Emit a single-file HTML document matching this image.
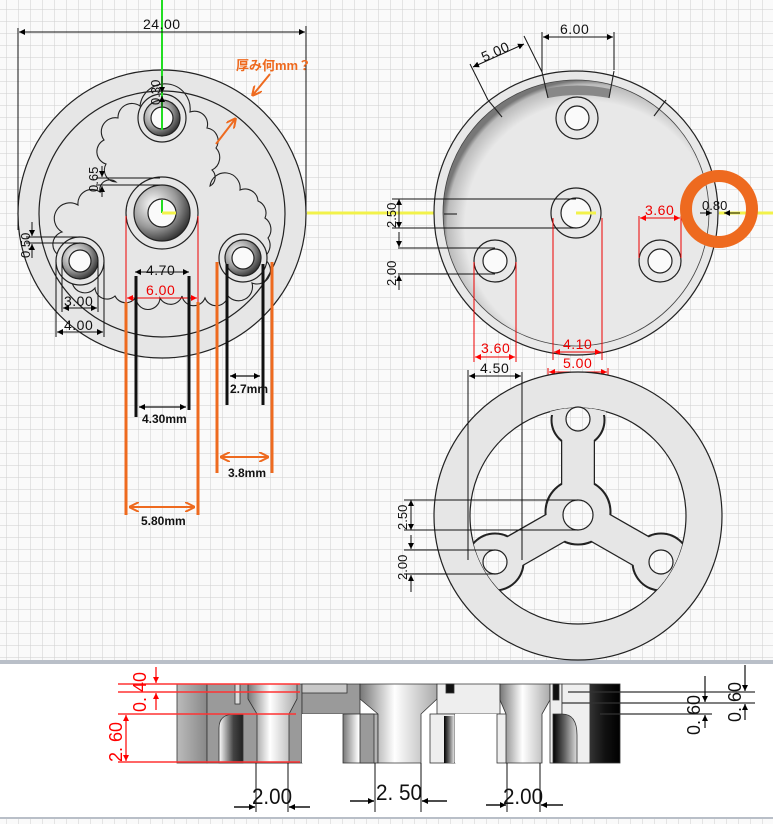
<!DOCTYPE html>
<html><head><meta charset="utf-8"><style>
html,body{margin:0;padding:0;background:#fafafa}
svg{display:block}
text{font-family:"Liberation Sans","Noto Sans CJK JP",sans-serif}
</style></head><body>
<svg width="773" height="824" viewBox="0 0 773 824" xmlns="http://www.w3.org/2000/svg">
<defs>
<pattern id="g" x="6" y="9" width="12" height="12" patternUnits="userSpaceOnUse">
<rect width="12" height="12" fill="#fafafa"/>
<path d="M0 0H12M0 0V12" stroke="#cfcfcf" stroke-width="1"/>
</pattern>
<marker id="ab" viewBox="0 0 10 10" refX="10" refY="5" markerWidth="9" markerHeight="6" orient="auto-start-reverse" markerUnits="userSpaceOnUse"><path d="M0 0L10 5L0 10z" fill="#000"/></marker>
<marker id="ar" viewBox="0 0 10 10" refX="10" refY="5" markerWidth="9" markerHeight="6" orient="auto-start-reverse" markerUnits="userSpaceOnUse"><path d="M0 0L10 5L0 10z" fill="#f00"/></marker>
<marker id="ao" viewBox="0 0 10 10" refX="10" refY="5" markerWidth="10" markerHeight="10" orient="auto-start-reverse" markerUnits="userSpaceOnUse"><path d="M0 0L10 5L0 10" fill="none" stroke="#ee6a1f" stroke-width="2"/></marker>
<radialGradient id="bev" cx="0.35" cy="0.35" r="0.7"><stop offset="0" stop-color="#fff"/><stop offset="0.6" stop-color="#999"/><stop offset="1" stop-color="#333"/></radialGradient>
<radialGradient id="rim" cx="0.55" cy="0.55" r="0.55"><stop offset="0.85" stop-color="#e8e8e8"/><stop offset="0.97" stop-color="#bbb"/><stop offset="1" stop-color="#777"/></radialGradient>
<linearGradient id="cyl" x1="0" x2="1"><stop offset="0" stop-color="#777"/><stop offset="0.45" stop-color="#fff"/><stop offset="1" stop-color="#aaa"/></linearGradient>
<linearGradient id="lb" x1="0" x2="1"><stop offset="0" stop-color="#bbb"/><stop offset="1" stop-color="#888"/></linearGradient>
<linearGradient id="dk" x1="0" x2="1"><stop offset="0" stop-color="#333"/><stop offset="0.5" stop-color="#111"/><stop offset="1" stop-color="#000"/></linearGradient>
<linearGradient id="arch" x1="0" x2="1"><stop offset="0" stop-color="#fff"/><stop offset="0.6" stop-color="#444"/><stop offset="1" stop-color="#222"/></linearGradient>
<linearGradient id="arch2" x1="0" x2="1"><stop offset="0" stop-color="#000"/><stop offset="0.5" stop-color="#666"/><stop offset="1" stop-color="#ddd"/></linearGradient>
<clipPath id="inr"><circle cx="578" cy="516" r="108"/></clipPath>
</defs>

<rect width="773" height="662" fill="url(#g)"/>
<rect y="818" width="773" height="6" fill="url(#g)"/>
<rect x="0" y="660" width="773" height="4" fill="#b9bfc8"/>
<rect x="0" y="664" width="773" height="154" fill="#fff"/>
<rect x="0" y="817" width="773" height="2" fill="#b9bfc8"/>

<!-- ================= LEFT VIEW ================= -->
<circle cx="162" cy="214" r="144" fill="#e6e6e6" stroke="#222" stroke-width="1.2"/>
<circle cx="162" cy="214" r="123" fill="none" stroke="#222" stroke-width="1.2"/>
<path d="M140 106 A16 16 0 0 1 190 112 A13 13 0 0 1 207 128 A13 13 0 0 1 216 148 A14 14 0 0 1 212 170 A10 10 0 0 1 210 186 A14 14 0 0 1 240 190 A13 13 0 0 1 258 201 A13 13 0 0 1 265 218 A14 14 0 0 1 268 238 A14 14 0 0 1 262 258 A13 13 0 0 1 252 283 A14 14 0 0 1 228 296 A12 12 0 0 1 205 298 A12 12 0 0 1 182 296 A12 12 0 0 1 160 298 A12 12 0 0 1 136 297 A12 12 0 0 1 115 296 A12 12 0 0 1 95 288 A13 13 0 0 1 72 278 A14 14 0 0 1 60 256 A13 13 0 0 1 62 232 A14 14 0 0 1 78 205 A14 14 0 0 1 100 192 A10 10 0 0 1 116 182 A12 12 0 0 1 106 164 A13 13 0 0 1 104 140 A14 14 0 0 1 118 118 A14 14 0 0 1 140 106Z" fill="none" stroke="#222" stroke-width="1.1"/>
<!-- holes left -->
<g stroke="#222" stroke-width="1.2">
<circle cx="162" cy="118" r="24" fill="#e6e6e6"/>
<circle cx="162" cy="118" r="18" fill="url(#bev)"/>
<circle cx="162" cy="118" r="11" fill="#fafafa"/>
<circle cx="162" cy="213" r="36" fill="#e6e6e6"/>
<circle cx="162" cy="213" r="28" fill="url(#bev)"/>
<circle cx="162" cy="213" r="14" fill="#fafafa"/>
<circle cx="80" cy="261" r="24" fill="#e6e6e6"/>
<circle cx="80" cy="261" r="18" fill="url(#bev)"/>
<circle cx="80" cy="261" r="11" fill="#fafafa"/>
<circle cx="243" cy="258" r="24" fill="#e6e6e6"/>
<circle cx="243" cy="258" r="18" fill="url(#bev)"/>
<circle cx="243" cy="258" r="11" fill="#fafafa"/>
</g>
<line x1="162" y1="0" x2="162" y2="130" stroke="#22dd22" stroke-width="2"/>
<line x1="162" y1="200" x2="162" y2="213" stroke="#22dd22" stroke-width="2"/>
<line x1="162" y1="213" x2="176" y2="213" stroke="#f2f24a" stroke-width="3"/>
<line x1="307" y1="213" x2="434" y2="213" stroke="#f2f24a" stroke-width="3"/>
<line x1="719" y1="213" x2="773" y2="213" stroke="#f2f24a" stroke-width="3"/>

<!-- dims left -->
<g stroke="#111" stroke-width="1" fill="none">
<line x1="18" y1="28" x2="18" y2="230"/>
<line x1="306" y1="26" x2="306" y2="210"/>
<line x1="19" y1="32" x2="305" y2="32" marker-start="url(#ab)" marker-end="url(#ab)"/>
<line x1="162" y1="76" x2="162" y2="93" marker-end="url(#ab)"/>
<line x1="162" y1="108" x2="162" y2="96" marker-end="url(#ab)"/>
<line x1="96" y1="178" x2="160" y2="178"/>
<line x1="96" y1="185" x2="160" y2="185"/>
<line x1="102" y1="166" x2="102" y2="177" marker-end="url(#ab)"/>
<line x1="102" y1="197" x2="102" y2="186" marker-end="url(#ab)"/>
<line x1="26" y1="237" x2="80" y2="237"/>
<line x1="26" y1="243" x2="80" y2="243"/>
<line x1="32" y1="222" x2="32" y2="236" marker-end="url(#ab)"/>
<line x1="32" y1="258" x2="32" y2="244" marker-end="url(#ab)"/>
<line x1="62" y1="262" x2="62" y2="312"/>
<line x1="98" y1="262" x2="98" y2="312"/>
<line x1="56" y1="262" x2="56" y2="337"/>
<line x1="104" y1="262" x2="104" y2="337"/>
<line x1="63" y1="308" x2="97" y2="308" marker-start="url(#ab)" marker-end="url(#ab)"/>
<line x1="57" y1="332" x2="103" y2="332" marker-start="url(#ab)" marker-end="url(#ab)"/>
<line x1="135" y1="272" x2="189" y2="272" marker-start="url(#ab)" marker-end="url(#ab)"/>
</g>
<g font-size="14" fill="#111">
<text x="143" y="29" letter-spacing="0.5">24.00</text>
<text x="146" y="275" letter-spacing="0.5">4.70</text>
<text x="64" y="306" letter-spacing="0.5">3.00</text>
<text x="64" y="330" letter-spacing="0.5">4.00</text>
<text transform="translate(160,105) rotate(-90)" font-size="13">0.30</text>
<text transform="translate(98,192) rotate(-90)" font-size="13">0.65</text>
<text transform="translate(30,258) rotate(-90)" font-size="13">0.50</text>
</g>
<!-- red / black / orange measurement lines -->
<g stroke="#e00" stroke-width="1">
<line x1="126" y1="216" x2="126" y2="302"/>
<line x1="198" y1="216" x2="198" y2="302"/>
<line x1="127" y1="298" x2="197" y2="298" marker-start="url(#ar)" marker-end="url(#ar)"/>
</g>
<text x="146" y="295" font-size="14" fill="#e00" letter-spacing="0.5">6.00</text>
<g stroke="#111" stroke-width="3">
<line x1="136" y1="276" x2="136" y2="417"/>
<line x1="189" y1="276" x2="189" y2="410"/>
<line x1="227" y1="264" x2="227" y2="405"/>
<line x1="263" y1="264" x2="263" y2="405"/>
</g>
<g stroke="#111" stroke-width="1.3" fill="none">
<line x1="139" y1="407" x2="186" y2="407" marker-start="url(#ab)" marker-end="url(#ab)"/>
<line x1="230" y1="376" x2="260" y2="376" marker-start="url(#ab)" marker-end="url(#ab)"/>
</g>
<g stroke="#ee6a1f" stroke-width="3">
<line x1="126" y1="302" x2="126" y2="515"/>
<line x1="198" y1="302" x2="198" y2="515"/>
<line x1="217" y1="262" x2="217" y2="473"/>
<line x1="272" y1="262" x2="272" y2="473"/>
</g>
<g stroke="#ee6a1f" stroke-width="2" fill="none">
<line x1="129" y1="507" x2="195" y2="507" marker-start="url(#ao)" marker-end="url(#ao)"/>
<line x1="220" y1="457" x2="269" y2="457" marker-start="url(#ao)" marker-end="url(#ao)"/>
<line x1="270" y1="74" x2="252" y2="96" marker-end="url(#ao)"/>
<line x1="216" y1="144" x2="236" y2="118" marker-end="url(#ao)"/>
</g>
<g font-size="12" font-weight="bold" fill="#111">
<text x="142" y="423">4.30mm</text>
<text x="230" y="393">2.7mm</text>
<text x="228" y="477">3.8mm</text>
<text x="141" y="525">5.80mm</text>
</g>
<text x="236" y="70" font-size="13" font-weight="bold" fill="#ee6a1f">厚み何mm？</text>

<!-- ================= RIGHT TOP VIEW ================= -->
<circle cx="576" cy="213" r="142" fill="#e8e8e8" stroke="#222" stroke-width="1.2"/>
<circle cx="576" cy="213" r="133" fill="url(#rim)" stroke="#444" stroke-width="0.8"/>
<path d="M545 89 Q577 82 610 89 L609 98 Q577 92 548 98Z" fill="#888"/>
<g stroke="#222" stroke-width="1.1">
<line x1="542" y1="72" x2="548" y2="98"/>
<line x1="614" y1="71" x2="609" y2="98"/>
<line x1="488" y1="100" x2="502" y2="117"/>
<line x1="666" y1="100" x2="654" y2="116"/>
<line x1="444" y1="214" x2="457" y2="214"/>
</g>
<g stroke="#222" stroke-width="1.2">
<circle cx="577" cy="118" r="21" fill="#e8e8e8"/>
<circle cx="577" cy="118" r="12" fill="#fafafa"/>
<circle cx="576" cy="213" r="25" fill="#e8e8e8"/>
<circle cx="576" cy="213" r="15" fill="#fafafa"/>
<circle cx="495" cy="261" r="21" fill="#e8e8e8"/>
<circle cx="495" cy="261" r="12" fill="#fafafa"/>
<circle cx="660" cy="261" r="21" fill="#e8e8e8"/>
<circle cx="660" cy="261" r="12" fill="#fafafa"/>
</g>
<line x1="576" y1="213" x2="596" y2="213" stroke="#f2f24a" stroke-width="3"/>
<g stroke="#111" stroke-width="1" fill="none">
<line x1="542" y1="32" x2="542" y2="72"/>
<line x1="614" y1="32" x2="614" y2="70"/>
<line x1="543" y1="37" x2="613" y2="37" marker-start="url(#ab)" marker-end="url(#ab)"/>
<line x1="470" y1="64" x2="488" y2="100"/>
<line x1="524" y1="36" x2="542" y2="72"/>
<line x1="473" y1="67" x2="524" y2="44" marker-start="url(#ab)" marker-end="url(#ab)"/>
<line x1="392" y1="199" x2="576" y2="199"/>
<line x1="392" y1="228" x2="576" y2="228"/>
<line x1="399" y1="199" x2="399" y2="228" marker-start="url(#ab)" marker-end="url(#ab)"/>
<line x1="398" y1="248" x2="495" y2="248"/>
<line x1="398" y1="274" x2="495" y2="274"/>
<line x1="399" y1="232" x2="399" y2="247" marker-end="url(#ab)"/>
<line x1="399" y1="290" x2="399" y2="275" marker-end="url(#ab)"/>
<line x1="700" y1="213" x2="712" y2="213" marker-end="url(#ab)"/>
<line x1="740" y1="213" x2="724" y2="213" marker-end="url(#ab)"/>
</g>
<g font-size="14" fill="#111">
<text x="560" y="34" letter-spacing="0.5">6.00</text>
<text transform="translate(484,62) rotate(-24)" letter-spacing="0.5">5.00</text>
<text transform="translate(396,228) rotate(-90)" font-size="13">2.50</text>
<text transform="translate(396,286) rotate(-90)" font-size="13">2.00</text>
<text x="702" y="210" font-size="13">0.80</text>
</g>
<g stroke="#e00" stroke-width="1" fill="none">
<line x1="474" y1="262" x2="474" y2="362"/>
<line x1="516" y1="262" x2="516" y2="362"/>
<line x1="475" y1="357" x2="515" y2="357" marker-start="url(#ar)" marker-end="url(#ar)"/>
<line x1="553" y1="218" x2="553" y2="360"/>
<line x1="602" y1="218" x2="602" y2="360"/>
<line x1="554" y1="352" x2="601" y2="352" marker-start="url(#ar)" marker-end="url(#ar)"/>
<line x1="548" y1="368" x2="548" y2="505"/>
<line x1="608" y1="368" x2="608" y2="548"/>
<line x1="549" y1="372" x2="607" y2="372" marker-start="url(#ar)" marker-end="url(#ar)"/>
<line x1="639" y1="216" x2="639" y2="258"/>
<line x1="681" y1="216" x2="681" y2="258"/>
<line x1="640" y1="218" x2="680" y2="218" marker-start="url(#ar)" marker-end="url(#ar)"/>
</g>
<g font-size="14" fill="#e00" letter-spacing="0.5">
<text x="481" y="353">3.60</text>
<text x="563" y="349">4.10</text>
<text x="563" y="368">5.00</text>
<text x="645" y="215">3.60</text>
</g>
<circle cx="719" cy="209" r="33" fill="none" stroke="#ee6a1f" stroke-width="12"/>

<!-- ================= RIGHT BOTTOM VIEW ================= -->
<circle cx="578" cy="516" r="144" fill="#e6e6e6" stroke="#222" stroke-width="1.2"/>
<circle cx="578" cy="516" r="108" fill="url(#g)" stroke="#222" stroke-width="1.2"/>
<g clip-path="url(#inr)">
<g stroke="#222" fill="#222">
<line x1="578" y1="515" x2="578" y2="400" stroke-width="34"/>
<line x1="578" y1="515" x2="480" y2="571" stroke-width="34"/>
<line x1="578" y1="515" x2="676" y2="571" stroke-width="34"/>
<circle cx="578" cy="512" r="33"/>
<circle cx="578" cy="420" r="27"/>
<circle cx="495" cy="562" r="29"/>
<circle cx="661" cy="562" r="29"/>
</g>
<g stroke="#e6e6e6" fill="#e6e6e6">
<line x1="578" y1="515" x2="578" y2="395" stroke-width="31.5"/>
<line x1="578" y1="515" x2="475" y2="574" stroke-width="31.5"/>
<line x1="578" y1="515" x2="681" y2="574" stroke-width="31.5"/>
<circle cx="578" cy="512" r="31.5" stroke="none"/>
<circle cx="578" cy="420" r="25.5" stroke="none"/>
<circle cx="495" cy="562" r="27.5" stroke="none"/>
<circle cx="661" cy="562" r="27.5" stroke="none"/>
<rect x="550" y="395" width="56" height="20" stroke="none"/>
</g>
</g>
<g stroke="#222" stroke-width="1.2" fill="url(#g)">
<circle cx="578" cy="515" r="15"/>
<circle cx="578" cy="419" r="12"/>
<circle cx="495" cy="562" r="12"/>
<circle cx="661" cy="562" r="12"/>
</g>
<g stroke="#111" stroke-width="1" fill="none">
<line x1="468" y1="370" x2="468" y2="560"/>
<line x1="522" y1="372" x2="522" y2="560"/>
<line x1="469" y1="376" x2="521" y2="376" marker-start="url(#ab)" marker-end="url(#ab)"/>
<line x1="404" y1="500" x2="578" y2="500"/>
<line x1="404" y1="530" x2="578" y2="530"/>
<line x1="411" y1="500" x2="411" y2="530" marker-start="url(#ab)" marker-end="url(#ab)"/>
<line x1="404" y1="550" x2="495" y2="550"/>
<line x1="404" y1="574" x2="495" y2="574"/>
<line x1="411" y1="535" x2="411" y2="549" marker-end="url(#ab)"/>
<line x1="411" y1="592" x2="411" y2="575" marker-end="url(#ab)"/>
</g>
<g font-size="14" fill="#111">
<text x="480" y="373" letter-spacing="0.5">4.50</text>
<text transform="translate(407,530) rotate(-90)" font-size="13">2.50</text>
<text transform="translate(407,580) rotate(-90)" font-size="13">2.00</text>
</g>

<!-- ================= SECTION VIEW ================= -->
<g stroke="#333" stroke-width="0.8">
<rect x="177" y="684" width="30" height="79" fill="url(#lb)"/>
<rect x="207" y="684" width="95" height="79" fill="#9a9a9a"/>
<path d="M219 763 V728 Q219 714 235 714 H243 V763Z" fill="url(#arch)"/>
<rect x="235" y="684" width="5" height="20" fill="#ddd"/>
<path d="M248 684 H297 V699 L289 714 V763 H257 V714 L248 699Z" fill="url(#cyl)"/>
<path d="M302 684 H360 V714 H302Z" fill="#9a9a9a"/>
<rect x="302" y="684" width="45" height="9" fill="#c8c8c8"/>
<rect x="302" y="714" width="41" height="49" fill="#fff" stroke="none"/>
<rect x="343" y="714" width="35" height="49" fill="url(#cyl)"/>
<rect x="360" y="714" width="14" height="49" fill="#9a9a9a"/>
<path d="M360 684 H437 V699 L421 714 V763 H378 V714 L360 699Z" fill="url(#cyl)"/>
<path d="M437 684 H500 V714 H437Z" fill="#eee"/>
<rect x="446" y="684" width="8" height="9" fill="#111"/>
<rect x="430" y="714" width="25" height="49" fill="#eee"/>
<rect x="444" y="716" width="10" height="47" fill="url(#arch2)" stroke="none"/>
<rect x="455" y="714" width="42" height="49" fill="#fff" stroke="none"/>
<rect x="497" y="714" width="10" height="49" fill="#eee"/>
<path d="M500 684 H550 V700 L542 714 V763 H506 V714 L500 700Z" fill="url(#cyl)"/>
<rect x="550" y="684" width="12" height="79" fill="#eee"/>
<rect x="553" y="684" width="6" height="16" fill="#111"/>
<rect x="562" y="684" width="28" height="79" fill="#efefef"/>
<path d="M553 763 V714 H562 Q577 714 577 735 V763Z" fill="url(#arch2)"/>
<rect x="590" y="684" width="30" height="79" fill="url(#dk)"/>
</g>
<!-- section dims red -->
<g stroke="#f33" stroke-width="1.5">
<line x1="118" y1="684" x2="300" y2="684"/>
<line x1="118" y1="692" x2="300" y2="692"/>
<line x1="118" y1="714" x2="296" y2="714"/>
<line x1="118" y1="762" x2="300" y2="762"/>
</g>
<g stroke="#f00" stroke-width="1.2">
<line x1="156" y1="667" x2="156" y2="683" marker-end="url(#ar)"/>
<line x1="156" y1="710" x2="156" y2="693" marker-end="url(#ar)"/>
<line x1="126" y1="738" x2="126" y2="715" marker-end="url(#ar)"/>
<line x1="126" y1="738" x2="126" y2="761" marker-end="url(#ar)"/>
</g>
<g font-size="18" fill="#f00">
<text transform="translate(146,712) rotate(-90)">0. 40</text>
<text transform="translate(122,762) rotate(-90)">2. 60</text>
</g>
<!-- section dims right -->
<g stroke="#333" stroke-width="1.2">
<line x1="568" y1="692" x2="755" y2="692"/>
<line x1="562" y1="703" x2="755" y2="703"/>
<line x1="600" y1="714" x2="712" y2="714"/>
</g>
<g stroke="#111" stroke-width="1.2">
<line x1="705" y1="676" x2="705" y2="702" marker-end="url(#ab)"/>
<line x1="705" y1="728" x2="705" y2="715" marker-end="url(#ab)"/>
<line x1="745" y1="665" x2="745" y2="691" marker-end="url(#ab)"/>
<line x1="745" y1="720" x2="745" y2="704" marker-end="url(#ab)"/>
</g>
<g font-size="18" fill="#111">
<text transform="translate(700,735) rotate(-90)">0. 60</text>
<text transform="translate(741,722) rotate(-90)">0. 60</text>
</g>
<!-- bottom dims -->
<g stroke="#111" stroke-width="1">
<line x1="256" y1="763" x2="256" y2="812"/>
<line x1="288" y1="763" x2="288" y2="812"/>
<line x1="375" y1="763" x2="375" y2="812"/>
<line x1="421" y1="763" x2="421" y2="812"/>
<line x1="507" y1="763" x2="507" y2="812"/>
<line x1="540" y1="763" x2="540" y2="812"/>
</g>
<g stroke="#111" stroke-width="1.5">
<line x1="234" y1="807" x2="255" y2="807" marker-end="url(#ab)"/>
<line x1="310" y1="807" x2="289" y2="807" marker-end="url(#ab)"/>
<line x1="350" y1="801" x2="374" y2="801" marker-end="url(#ab)"/>
<line x1="447" y1="801" x2="422" y2="801" marker-end="url(#ab)"/>
<line x1="486" y1="805" x2="506" y2="805" marker-end="url(#ab)"/>
<line x1="563" y1="805" x2="541" y2="805" marker-end="url(#ab)"/>
</g>
<g font-size="22" fill="#111">
<text x="252" y="804" textLength="40" lengthAdjust="spacingAndGlyphs">2.00</text>
<text x="376" y="800" textLength="46" lengthAdjust="spacingAndGlyphs">2. 50</text>
<text x="503" y="804" textLength="40" lengthAdjust="spacingAndGlyphs">2.00</text>
</g>
</svg>
</body></html>
